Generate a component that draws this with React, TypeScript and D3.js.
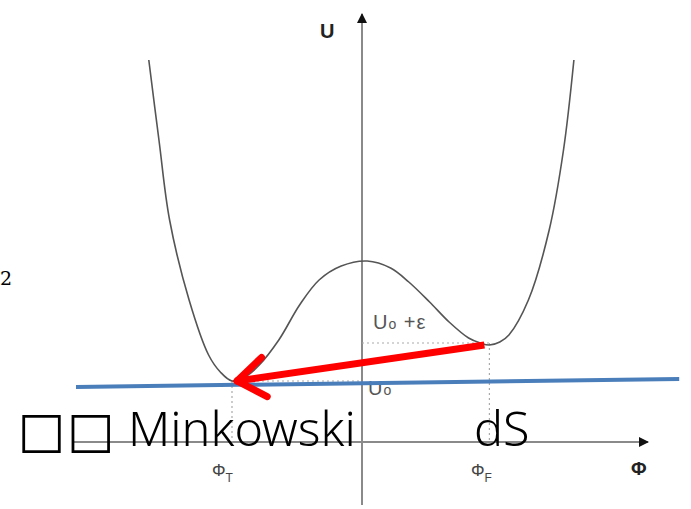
import React from "react";
import * as d3 from "d3";

// Double-well potential U(Φ), sampled points (Φ, U)
const phiValues = [-1.64, -1.56, -1.48, -1.33, -1.18, -1.09, -1.0, -0.9, -0.79, -0.64, -0.48, -0.33, -0.16, 0.04, 0.22, 0.36, 0.52, 0.67, 0.82, 0.91, 0.98, 1.06, 1.13, 1.28, 1.44, 1.55, 1.63];
const uValues = [3.82, 3.0, 2.22, 1.42, 0.87, 0.7, 0.61, 0.65, 0.77, 1.02, 1.37, 1.62, 1.76, 1.81, 1.74, 1.6, 1.4, 1.2, 1.04, 0.99, 0.97, 1.0, 1.07, 1.42, 2.12, 2.92, 3.82];

// Vacua
const phiT = -1.0;
const phiF = 0.98;
const U0 = 0.61;
const UF = 0.99;

// Blue line end points (Φ, U)
const blueLine = [
  { phi: -2.2, u: 0.55 },
  { phi: 2.44, u: 0.63 },
];

// Axis ranges
const phiDomain = [-2.3, 2.2];
const uDomain = [-0.63, 4.28];

const W = 691;
const H = 509;

export default function App() {
  const x = d3.scaleLinear().domain(phiDomain).range([63, 648]);
  const y = d3.scaleLinear().domain(uDomain).range([505, 14]);

  const pts: [number, number][] = phiValues.map((p, i) => [p, uValues[i]]);
  const line = d3
    .line<[number, number]>()
    .x((d) => x(d[0]))
    .y((d) => y(d[1]))
    .curve(d3.curveCatmullRom.alpha(0.5));

  const x0 = x(0);
  const yAxis = y(0);
  const axisLeft = 74;

  // Red arrow from the false vacuum towards the true vacuum
  const ax1 = x(phiF) - 5;
  const ay1 = y(UF) + 2;
  const ax2 = x(phiT) + 5;
  const ay2 = y(U0);
  const ang = Math.atan2(ay1 - ay2, ax1 - ax2);
  const headLen = 34;
  const spread = 0.62;
  const h1 = [ax2 + headLen * Math.cos(ang - spread), ay2 + headLen * Math.sin(ang - spread)];
  const h2 = [ax2 + headLen * Math.cos(ang + spread), ay2 + headLen * Math.sin(ang + spread)];

  const labelFont = "Arial, 'Liberation Sans', sans-serif";

  return (
    <svg width={W} height={H} style={{ position: "absolute", left: 0, top: 0 }}>
      <defs>
        <marker id="ah" viewBox="0 0 10 10" refX="9" refY="5" markerWidth="5" markerHeight="5" orient="auto">
          <path d="M0,0 L10,5 L0,10 z" fill="#111" />
        </marker>
      </defs>
      <rect width={W} height={H} fill="#fff" />

      {/* axes */}
      <line x1={x0} y1={H - 4} x2={x0} y2={y(uDomain[1])} stroke="#8a8a8a" strokeWidth={2} markerEnd="url(#ah)" />
      <line x1={axisLeft} y1={yAxis} x2={x(phiDomain[1])} y2={yAxis} stroke="#8a8a8a" strokeWidth={2} markerEnd="url(#ah)" />

      {/* dotted guides */}
      <g stroke="#aaa" strokeWidth={1.2} strokeDasharray="2,3" fill="none">
        <line x1={x0} y1={y(UF)} x2={x(phiF)} y2={y(UF)} />
        <line x1={x(phiF)} y1={y(UF)} x2={x(phiF)} y2={yAxis} />
        <line x1={x(phiT)} y1={y(U0)} x2={x(phiT)} y2={yAxis} />
        <line x1={x(phiT)} y1={y(U0)} x2={x0} y2={y(U0)} />
      </g>

      {/* potential curve */}
      <path d={line(pts) ?? ""} fill="none" stroke="#555" strokeWidth={1.6} />

      {/* labels */}
      <text x={320} y={38} fontFamily={labelFont} fontWeight="bold" fontSize={20} fill="#222">U</text>
      <text x={373} y={329} fontFamily={labelFont} fontSize={20} letterSpacing={1} fill="#555">
        U<tspan fontSize={14}>o</tspan> +ε
      </text>
      <text x={368} y={395} fontFamily={labelFont} fontSize={20} letterSpacing={1} fill="#555">
        U<tspan fontSize={14}>o</tspan>
      </text>
      <text x={212} y={476} fontFamily={labelFont} fontSize={17} fill="#444">
        Φ<tspan fontSize={12} dy={6}>T</tspan>
      </text>
      <text x={471} y={476} fontFamily={labelFont} fontSize={17} fill="#444">
        Φ<tspan fontSize={12} dy={6}>F</tspan>
      </text>
      <text x={631} y={475} fontFamily={labelFont} fontWeight="bold" fontSize={19} fill="#222">Φ</text>

      <text x={0} y={285} fontFamily="'DejaVu Serif', 'Liberation Serif', serif" fontSize={19} fill="#000">2</text>

      {/* blue line */}
      <line
        x1={x(blueLine[0].phi)}
        y1={y(blueLine[0].u)}
        x2={x(blueLine[1].phi)}
        y2={y(blueLine[1].u)}
        stroke="#4a7ebb"
        strokeWidth={4}
      />

      {/* red arrow */}
      <g stroke="#ff0000" strokeWidth={7} strokeLinecap="round" fill="none">
        <line x1={ax1} y1={ay1} x2={ax2} y2={ay2} strokeLinecap="butt" />
        <line x1={ax2} y1={ay2} x2={h1[0]} y2={h1[1]} />
        <line x1={ax2} y1={ay2} x2={h2[0]} y2={h2[1]} />
      </g>

      {/* region labels */}
      <text x={18} y={447} fontFamily="'DejaVu Sans', sans-serif" fontSize={50} letterSpacing={2} fill="#000">□□</text>
      <text x={128} y={446} fontFamily="'Noto Sans', sans-serif" fontWeight={300} fontSize={48.5} fill="#000">Minkowski</text>
      <text x={474} y={446} fontFamily="'Noto Sans', sans-serif" fontWeight={300} fontSize={48.5} fill="#000">dS</text>
    </svg>
  );
}
